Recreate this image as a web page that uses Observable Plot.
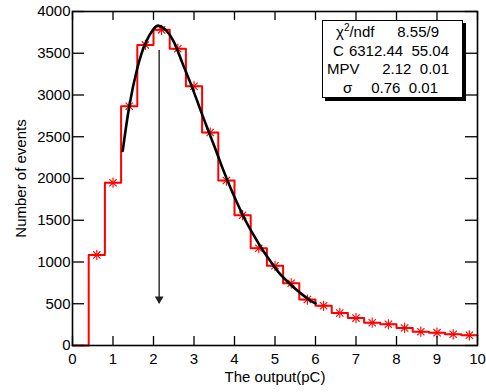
<!DOCTYPE html>
<html>
<head>
<meta charset="utf-8">
<script src="https://cdn.jsdelivr.net/npm/d3@7"></script>
<script src="https://cdn.jsdelivr.net/npm/@observablehq/plot@0.6"></script>
<style>
  body { margin: 0; background: #fff; }
  #wrap { position: relative; width: 486px; height: 392px; font-family: "Liberation Sans", Arial, sans-serif; }
  #stats { position: absolute; left: 322px; top: 20px; width: 139px; height: 74px; border: 1px solid #000; background: #fff;
           box-shadow: 3px 3px 0 #000; font-size: 15px; color: #000; }
  .row { position: relative; height: 18.5px; line-height: 18.5px; }
  .row span { position: absolute; white-space: pre; }
</style>
</head>
<body>
<div id="wrap"></div>
<script>
// Histogram bins (lower edges, width 0.4 pC) and counts
const binLow = [0, 0.4, 0.8, 1.2, 1.6, 2.0, 2.4, 2.8, 3.2, 3.6, 4.0, 4.4, 4.8, 5.2, 5.6, 6.0, 6.4, 6.8, 7.2, 7.6, 8.0, 8.4, 8.8, 9.2, 9.6];
const counts = [0, 1085, 1950, 2865, 3600, 3780, 3555, 3105, 2550, 1975, 1560, 1165, 955, 745, 550, 475, 390, 328, 273, 254, 210, 165, 154, 134, 122];
const binWidth = 0.4;
const xMax = 10;

// Fit curve
const fitX = [1.24, 1.40, 1.60, 1.80, 2.00, 2.13, 2.30, 2.50, 2.70, 2.90, 3.10, 3.30, 3.50, 3.70, 3.90, 4.10, 4.30, 4.50, 4.70, 4.90, 5.10, 5.30, 5.50, 5.70, 5.90, 6.00];
const fitY = [2330, 2860, 3320, 3620, 3790, 3830, 3780, 3640, 3400, 3160, 2900, 2640, 2390, 2130, 1890, 1670, 1470, 1300, 1140, 1000, 870, 770, 680, 600, 530, 505];

// MPV arrow
const arrowX = 2.14;
const arrowTop = 3540;
const arrowBottom = 510;

const xTicks = [0, 1, 2, 3, 4, 5, 6, 7, 8, 9, 10];
const yTicks = [0, 500, 1000, 1500, 2000, 2500, 3000, 3500, 4000];

const stepData = binLow.map((x, i) => ({x, y: counts[i]})).concat([{x: xMax, y: counts[counts.length - 1]}]);
const markerData = binLow.map((x, i) => ({x: x + binWidth / 2, y: counts[i]})).filter(d => d.y > 0);
const fitData = fitX.map((x, i) => ({x, y: fitY[i]}));

const W = 486, H = 392;
const mL = 72, mR = 9, mT = 11, mB = 47;
const plotW = W - mL - mR, plotH = H - mT - mB;

const chart = Plot.plot({
  width: W, height: H,
  marginLeft: mL, marginRight: mR, marginTop: mT, marginBottom: mB,
  style: {fontFamily: "'Liberation Sans', Arial, sans-serif", fontSize: "15px", background: "#fff", color: "#000"},
  x: {domain: [0, xMax]},
  y: {domain: [0, 4000]},
  marks: [
    Plot.line(stepData, {x: "x", y: "y", curve: "step-after", stroke: "#ff0000", strokeWidth: 2}),
    Plot.dot(markerData, {x: "x", y: "y", symbol: "plus", r: 3.4, stroke: "#ff0000", strokeWidth: 1.1}),
    Plot.dot(markerData, {x: "x", y: "y", symbol: "times", r: 3.4, stroke: "#ff0000", strokeWidth: 1.1}),
    Plot.line(fitData, {x: "x", y: "y", curve: "natural", stroke: "#000", strokeWidth: 2.6}),
    Plot.link([arrowX], {x1: d => d, x2: d => d, y1: arrowTop, y2: arrowBottom, stroke: "#333", strokeWidth: 1.5}),
    Plot.dot([arrowX], {x: d => d, y: arrowBottom, symbol: "triangle2", rotate: 180, r: 4.2, dy: -4, fill: "#222", stroke: "none"}),
    // inside ticks on all four sides
    Plot.tickX(xTicks, {x: d => d, insetTop: plotH - 9, stroke: "#000", strokeWidth: 1.3}),
    Plot.tickX(xTicks, {x: d => d, insetBottom: plotH - 9, stroke: "#000", strokeWidth: 1.3}),
    Plot.tickY(yTicks, {y: d => d, insetRight: plotW - 12, stroke: "#000", strokeWidth: 1.3}),
    Plot.tickY(yTicks, {y: d => d, insetLeft: plotW - 12, stroke: "#000", strokeWidth: 1.3}),
    Plot.axisX(xTicks, {tickSize: 0, tickPadding: 8, fontSize: 15, tickFormat: d3.format("d"), label: "The output(pC)", labelArrow: "none", labelAnchor: "center", labelOffset: 36}),
    Plot.axisY(yTicks, {tickSize: 0, tickPadding: 2, fontSize: 15, tickFormat: d3.format("d"), label: "Number of events", labelArrow: "none", labelAnchor: "center", labelOffset: 57}),
    Plot.frame({stroke: "#000", strokeWidth: 1.6})
  ]
});

const wrap = document.getElementById("wrap");
wrap.appendChild(chart);

const stats = document.createElement("div");
stats.id = "stats";
const rows = [
  {name: "χ²/ndf", nameLeft: 13, value: "8.55/9", valueRight: 23},
  {name: "C", nameLeft: 10, value: "6312.44  55.04", valueRight: 13},
  {name: "MPV", nameLeft: 4, value: "2.12  0.01", valueRight: 13},
  {name: "σ", nameLeft: 20, value: "0.76  0.01", valueRight: 24}
];
stats.style.paddingTop = "2px";
for (const r of rows) {
  const row = document.createElement("div");
  row.className = "row";
  const a = document.createElement("span");
  a.style.left = r.nameLeft + "px";
  a.innerHTML = r.name.replace("²", "<sup style='font-size:10px;line-height:0'>2</sup>");
  const b = document.createElement("span");
  b.style.right = r.valueRight + "px";
  b.textContent = r.value;
  row.appendChild(a); row.appendChild(b);
  stats.appendChild(row);
}
wrap.appendChild(stats);
</script>
</body>
</html>
